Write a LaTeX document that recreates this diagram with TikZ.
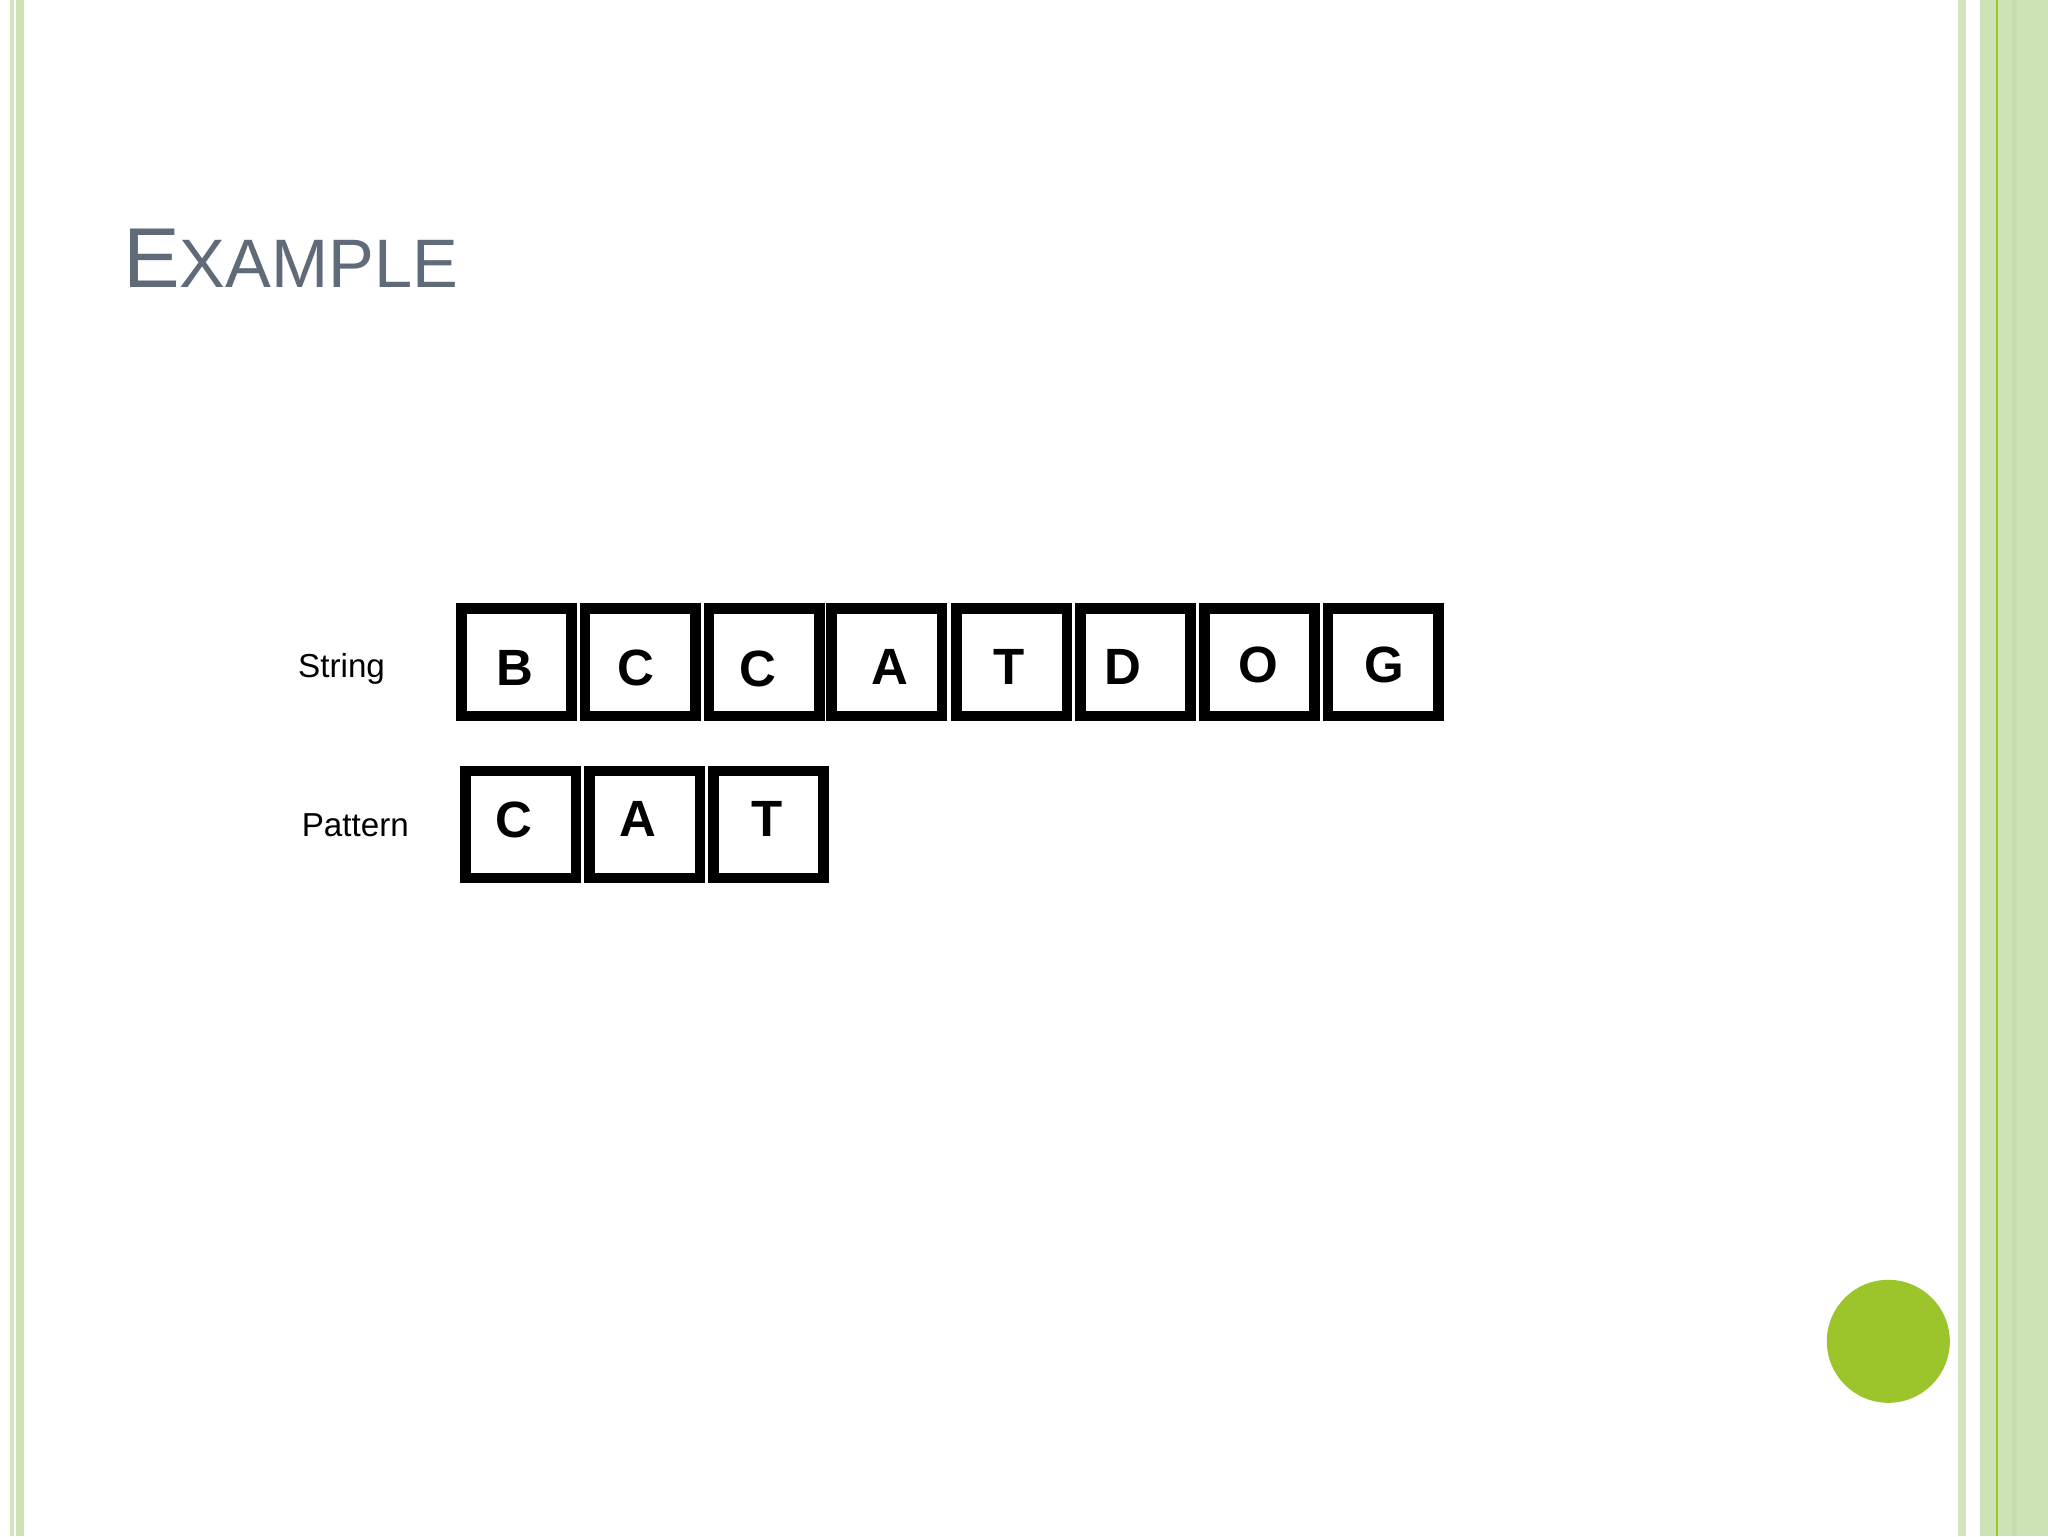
\documentclass[tikz,border=0pt]{standalone}
\usepackage{fontspec}
\setmainfont{Liberation Sans}
\definecolor{titlegray}{HTML}{5F6B78}
\definecolor{dotgreen}{HTML}{9BC52B}
\definecolor{stripeA}{HTML}{D3E5BF}
\definecolor{stripeB}{HTML}{CDE3B5}
\definecolor{stripeC}{HTML}{C6DFAC}
\definecolor{stripeLine}{HTML}{9BC62A}
\begin{document}
\begin{tikzpicture}[x=0.5pt,y=-0.5pt,
  cellbox/.style={draw=black, line width=5.3pt, fill=white, rectangle,
    minimum width=55.2pt, minimum height=53.6pt, inner sep=0pt},
  cellletter/.style={anchor=base, inner sep=0pt, font=\fontsize{25.5}{25.5}\selectfont\bfseries},
  rowlabel/.style={anchor=base west, inner sep=0pt, font=\fontsize{16.6}{16.6}\selectfont}]
\useasboundingbox (0,0) rectangle (2048,1536);
\fill[white] (0,0) rectangle (2048,1536);
% left border stripes
\fill[stripeA] (10,0) rectangle (13.5,1536);
\fill[stripeB] (15.5,0) rectangle (23.5,1536);
% right border stripes
\fill[stripeA] (1958.3,0) rectangle (1966.3,1536);
\fill[stripeB] (1980,0) rectangle (2048,1536);
\fill[stripeC] (2011.7,0) rectangle (2016.7,1536);
\fill[stripeLine] (1995.7,0) rectangle (1997.7,1536);
% title
\node[anchor=base west, inner sep=0pt, text=titlegray] (title) at (122.6,287.3)
  {{\fontsize{42.5}{42.5}\selectfont E}{\fontsize{34.3}{34.3}\selectfont XAMPLE}};
% labels
\node[rowlabel] (lstring) at (297.8,677.7) {String};
\node[rowlabel] (lpattern) at (301.4,836.7) {Pattern};
% string boxes
\node[cellbox] (s1) at (516.5,662.2) {};
\node[cellbox] (s2) at (640.3,662.2) {};
\node[cellbox] (s3) at (764.2,662.2) {};
\node[cellbox] (s4) at (886.7,662.2) {};
\node[cellbox] (s5) at (1011.7,662.2) {};
\node[cellbox] (s6) at (1135.5,662.2) {};
\node[cellbox] (s7) at (1259.5,662.2) {};
\node[cellbox] (s8) at (1383.2,662.2) {};
\node[cellletter] (t1) at (515.3,685) {B};
\node[cellletter] (t2) at (636,685.5) {C};
\node[cellletter] (t3) at (757.5,686.5) {C};
\node[cellletter] (t4) at (890.3,684.3) {A};
\node[cellletter] (t5) at (1008.7,684.3) {T};
\node[cellletter] (t6) at (1123,684.3) {D};
\node[cellletter] (t7) at (1258.8,682.2) {O};
\node[cellletter] (t8) at (1384.7,682.2) {G};
% pattern boxes
\node[cellbox] (p1) at (520.8,824.5) {};
\node[cellbox] (p2) at (644.8,824.5) {};
\node[cellbox] (p3) at (768.5,824.5) {};
\node[cellletter] (q1) at (514.3,837.3) {C};
\node[cellletter] (q2) at (638,836.7) {A};
\node[cellletter] (q3) at (767.5,836.7) {T};
% green dot
\fill[dotgreen] (1888.3,1341.3) circle[radius=61.5];
\end{tikzpicture}
\end{document}
